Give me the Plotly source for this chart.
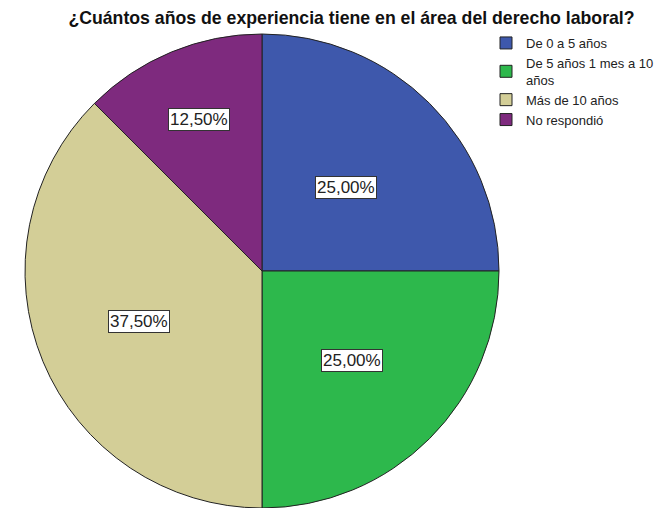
import math
import plotly.graph_objects as go

categories = ["De 0 a 5 años", "De 5 años 1 mes a 10<br>años", "Más de 10 años", "No respondió"]
values = [25.0, 25.0, 37.5, 12.5]
value_labels = ["25,00%", "25,00%", "37,50%", "12,50%"]

colors = ["#3E58AC", "#2DB84C", "#D3CE97", "#7E2A7E"]
label_radius = [0.50, 0.535, 0.56, 0.69]

# page body has an 8px margin, so the figure is drawn 8px in from the window corner
W, H = 663, 500
cx, cy, R = 254, 263, 237

fig = go.Figure()
fig.add_trace(go.Pie(
    labels=categories,
    values=values,
    sort=False,
    direction="clockwise",
    rotation=0,
    textinfo="none",
    hoverinfo="label+percent",
    marker=dict(colors=colors, line=dict(color="#222222", width=1)),
    domain=dict(x=[(cx - R) / W, (cx + R) / W], y=[max(0, (H - cy - R) / H), (H - cy + R) / H]),
))

total = sum(values)
cum = 0.0
annotations = []
for v, lab, f in zip(values, value_labels, label_radius):
    mid = (cum + v / 2) / total * 2 * math.pi
    cum += v
    px = cx + R * f * math.sin(mid)
    py = cy - R * f * math.cos(mid)
    annotations.append(dict(
        x=px / W, y=1 - py / H, xref="paper", yref="paper",
        xanchor="center", yanchor="middle",
        text=lab, showarrow=False,
        font=dict(family="Liberation Sans, Arial", size=17, color="#222222"),
        bgcolor="white", bordercolor="#333333", borderwidth=1, borderpad=1,
    ))

fig.update_layout(
    width=W, height=H,
    margin=dict(l=0, r=0, t=0, b=0),
    paper_bgcolor="white",
    title=dict(
        text="<b>¿Cuántos años de experiencia tiene en el área del derecho laboral?</b>",
        x=343.5 / W, xanchor="center", y=1 - 10 / H, yanchor="middle",
        font=dict(family="Liberation Sans, Arial", size=17.7, color="#111111"),
    ),
    legend=dict(
        x=478 / W, y=1 - 20 / H, xanchor="left", yanchor="top",
        font=dict(family="Liberation Sans, Arial", size=13, color="#222222"),
        itemwidth=30, tracegroupgap=0,
        bgcolor="rgba(0,0,0,0)",
    ),
    annotations=annotations,
)

fig.write_html("out.html")
